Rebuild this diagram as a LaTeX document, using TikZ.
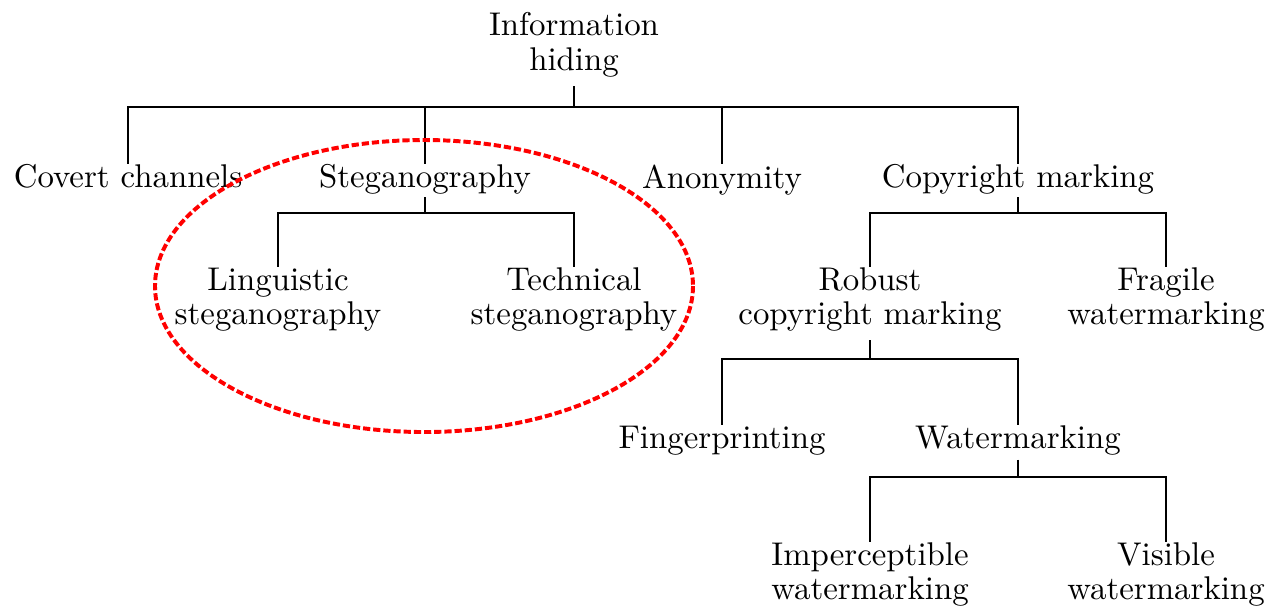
\documentclass[tikz,border=0pt]{standalone}
\usepackage{tikz}
\usepackage{xcolor}

\begin{document}
\begin{tikzpicture}[x=0.0107cm,y=-0.0107cm]
\tikzset{every node/.style={align=center,inner sep=0pt,anchor=north,font=\fontsize{10}{10.4}\selectfont}}
\tikzset{branch/.style={line width=0.6pt}}
\tikzset{circled/.style={red,line width=1.2pt,dash pattern=on 2.2pt off 0.9pt}}

\useasboundingbox (0,0) rectangle (1270,608);

\node (infohiding) at (574,12) {Information\\hiding};

\node (covert) at (128,164) {Covert channels};
\node (stego) at (425,164) {Steganography};
\node (anonymity) at (722,164) {Anonymity};
\node (copyright) at (1018,164) {Copyright marking};

\node (linguistic) at (278,267) {Linguistic\\steganography};
\node (technical) at (574,267) {Technical\\steganography};
\node (robust) at (870,267) {Robust\\copyright marking};
\node (fragile) at (1166,267) {Fragile\\watermarking};

\node (fingerprint) at (722,425) {Fingerprinting};
\node (watermark) at (1018,425) {Watermarking};

\node (imperceptible) at (870,542) {Imperceptible\\watermarking};
\node (visible) at (1166,542) {Visible\\watermarking};

\foreach \c in {covert,stego,anonymity,copyright}
  \draw[branch] (infohiding.south) ++(0,9) -- ++(0,21) -| (\c.north);
\foreach \c in {linguistic,technical}
  \draw[branch] (stego.south) ++(0,2) -- ++(0,16) -| (\c.north);
\foreach \c in {robust,fragile}
  \draw[branch] (copyright.south) ++(0,2) -- ++(0,16) -| (\c.north);
\foreach \c in {fingerprint,watermark}
  \draw[branch] (robust.south) ++(0,8) -- ++(0,19) -| (\c.north);
\foreach \c in {imperceptible,visible}
  \draw[branch] (watermark.south) ++(0,4) -- ++(0,17) -| (\c.north);

\draw[circled] (424,286) ellipse [x radius=269, y radius=146];

\end{tikzpicture}
\end{document}
